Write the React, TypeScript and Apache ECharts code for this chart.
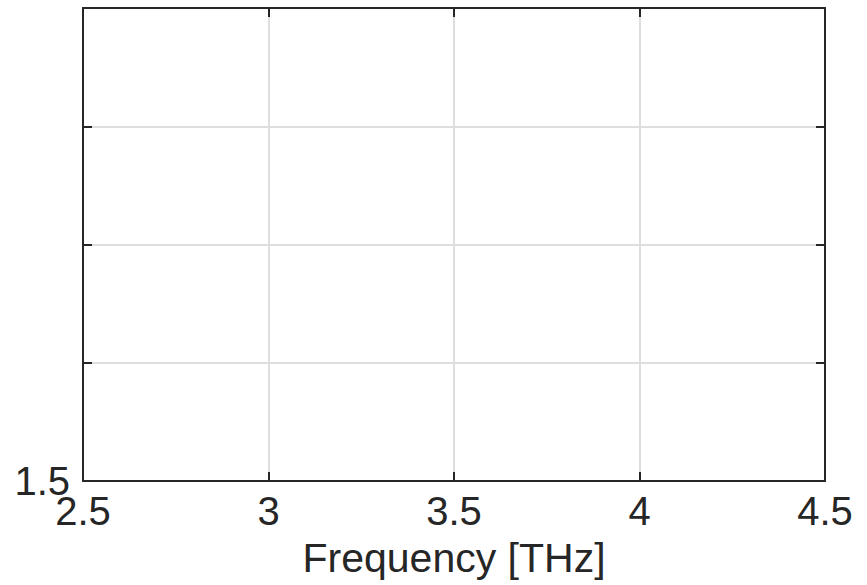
import React, { useEffect, useRef } from "react";
import * as echarts from "echarts";

const xRange = [2.5, 4.5];
const xStep = 0.5;
const yRange = [1.5, 3.5];
const yStep = 0.5;
const yShownLabels = ["1.5"];
const xLabel = "Frequency [THz]";
const seriesData: number[][] = [];

const FONT = "'Liberation Sans', Arial, Helvetica, sans-serif";
const AXIS_COLOR = "#262626";
const GRID_COLOR = "#dedede";

export default function App() {
  const ref = useRef<HTMLDivElement>(null);
  useEffect(() => {
    if (!ref.current) return;
    const chart = echarts.init(ref.current, undefined, { renderer: "svg" });
    const axisLine = { show: true, lineStyle: { color: AXIS_COLOR, width: 2 } };
    const axisTick = { show: true, inside: true, length: 9, lineStyle: { color: AXIS_COLOR, width: 2 } };
    chart.setOption({
      animation: false,
      backgroundColor: "#ffffff",
      grid: { left: 83, right: 42, top: 8, bottom: 104, containLabel: false },
      xAxis: [
        {
          type: "value",
          min: xRange[0],
          max: xRange[1],
          interval: xStep,
          position: "bottom",
          name: xLabel,
          nameLocation: "middle",
          nameGap: 56,
          nameTextStyle: { fontFamily: FONT, fontSize: 41, color: AXIS_COLOR },
          axisLine,
          axisTick,
          axisLabel: {
            fontFamily: FONT,
            fontSize: 40,
            color: AXIS_COLOR,
            margin: 10,
            formatter: (v: number) => String(v),
          },
          splitLine: { show: true, lineStyle: { color: GRID_COLOR, width: 2 } },
        },
        {
          type: "value",
          min: xRange[0],
          max: xRange[1],
          interval: xStep,
          position: "top",
          axisLine,
          axisTick,
          axisLabel: { show: false },
          splitLine: { show: false },
        },
      ],
      yAxis: [
        {
          type: "value",
          min: yRange[0],
          max: yRange[1],
          interval: yStep,
          position: "left",
          axisLine,
          axisTick,
          axisLabel: {
            fontFamily: FONT,
            fontSize: 40,
            color: AXIS_COLOR,
            margin: 13,
            formatter: (v: number) => (yShownLabels.includes(String(v)) ? String(v) : ""),
          },
          splitLine: { show: true, lineStyle: { color: GRID_COLOR, width: 2 } },
        },
        {
          type: "value",
          min: yRange[0],
          max: yRange[1],
          interval: yStep,
          position: "right",
          axisLine,
          axisTick,
          axisLabel: { show: false },
          splitLine: { show: false },
        },
      ],
      series: [{ type: "line", data: seriesData, xAxisIndex: 0, yAxisIndex: 0 }],
    });
    return () => chart.dispose();
  }, []);
  return (
    <div
      ref={ref}
      style={{ position: "fixed", left: 0, top: 0, width: 867, height: 585, background: "#fff" }}
    />
  );
}
